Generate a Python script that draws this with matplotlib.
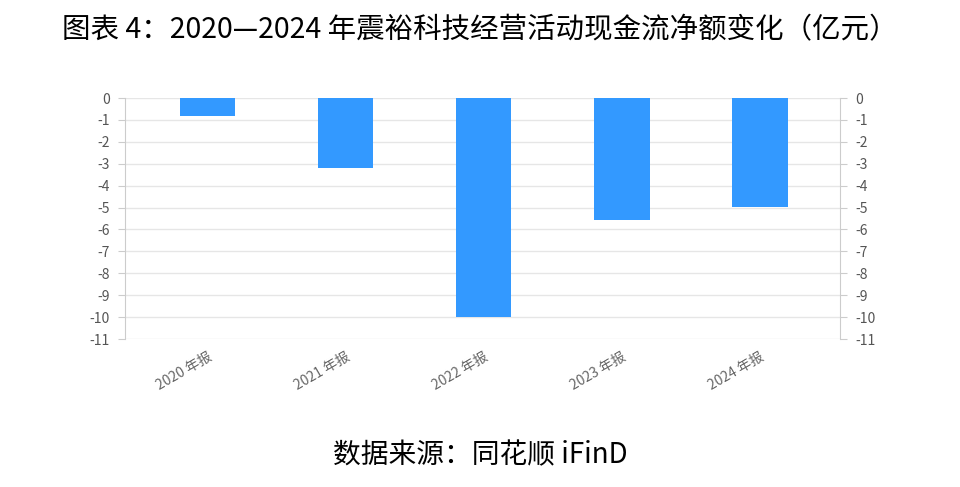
import matplotlib
matplotlib.use("Agg")
import matplotlib.pyplot as plt

plt.rcParams['font.family'] = ['Noto Sans CJK SC', 'DejaVu Sans']

categories = ["2020 年报", "2021 年报", "2022 年报", "2023 年报", "2024 年报"]
values = [-0.82, -3.18, -9.98, -5.57, -4.98]
yticks = list(range(0, -12, -1))

fig = plt.figure(figsize=(9.6, 4.87), dpi=100)
ax = fig.add_axes([125/960, 1-339/487, (840-125)/960, (339-98)/487])
x = range(len(categories))
ax.bar(x, values, width=0.4, color="#3399FF", zorder=3)
ax.set_ylim(-11, 0)
ax.set_xlim(-0.6, len(categories)-0.42)
ax.set_yticks(yticks)
ax.set_yticklabels([str(v) for v in yticks], fontsize=10, color="#555555")
ax.set_xticks(list(x))
ax.set_xticklabels(categories, rotation=30, ha="right", rotation_mode="anchor", fontsize=10, color="#666666")
ax.grid(axis="y", color="#e6e6e6", lw=1, zorder=0)
for s in ["top", "bottom"]:
    ax.spines[s].set_visible(False)
for s in ["left", "right"]:
    ax.spines[s].set_color("#cccccc")
ax.tick_params(axis="y", length=5, color="#cccccc", labelright=True, right=True, pad=6)
ax.tick_params(axis="x", length=0, pad=8)

fig.text(0.5, 1-30/487, "图表 4：2020—2024 年震裕科技经营活动现金流净额变化（亿元）", ha="center", va="center", fontsize=20.5, fontweight="medium")
fig.text(0.5, 1-455/487, "数据来源：同花顺 iFinD", ha="center", va="center", fontsize=20)
fig.savefig("out.png", dpi=100)
